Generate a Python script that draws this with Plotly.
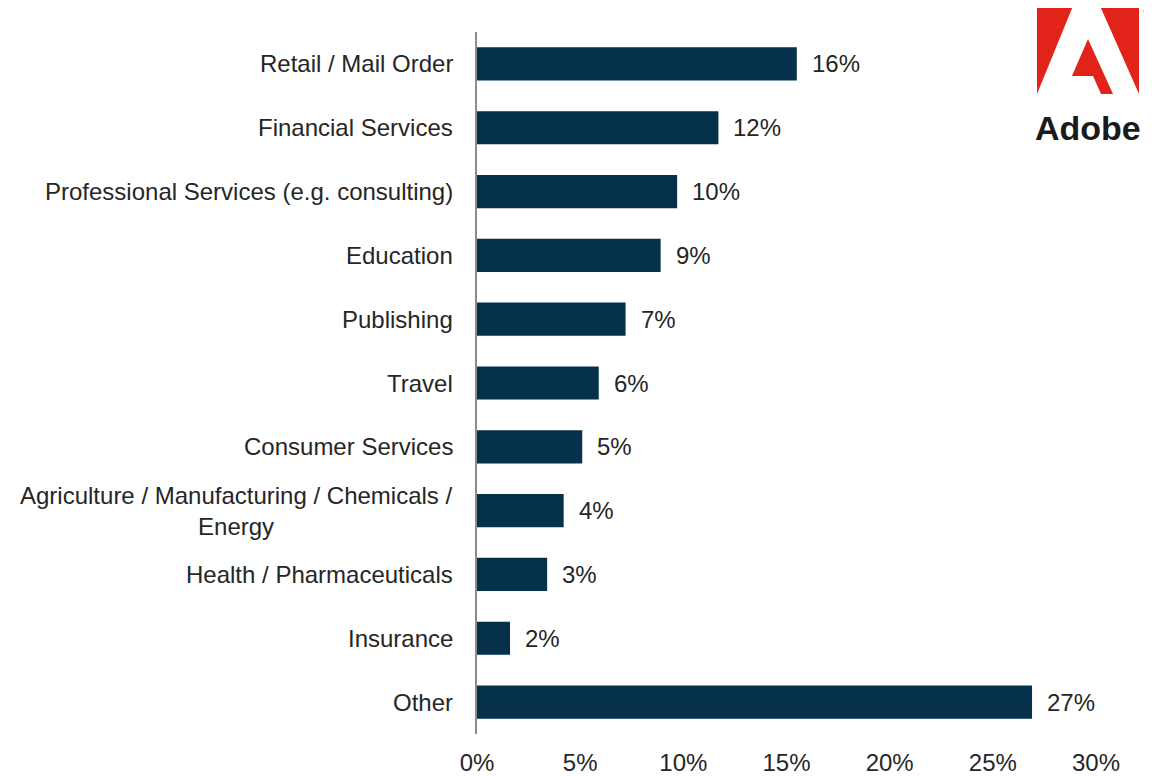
import plotly.graph_objects as go

# survey share by industry
industries = [
    "Retail / Mail Order",
    "Financial Services",
    "Professional Services (e.g. consulting)",
    "Education",
    "Publishing",
    "Travel",
    "Consumer Services",
    "Agriculture / Manufacturing / Chemicals /<br>Energy",
    "Health / Pharmaceuticals",
    "Insurance",
    "Other",
]
shares = [15.5, 11.7, 9.7, 8.9, 7.2, 5.9, 5.1, 4.2, 3.4, 1.6, 26.9]
x_ticks = [0, 5, 10, 15, 20, 25, 30]
x_tick_labels = [f"{t}%" for t in x_ticks]

BAR = "#05314a"
TEXT = "#262626"
FONT = "Liberation Sans, Arial, sans-serif"
FS = 24

# page body has an 8px margin, so the figure is shrunk to fit the window
OFF = 8
W, H = 1152 - OFF, 776 - OFF
L, R, T, B = 477 - OFF, 56, 32 - OFF, 42

fig = go.Figure(
    go.Bar(
        x=shares,
        y=industries,
        orientation="h",
        marker=dict(color=BAR, line=dict(width=0)),
        width=0.52,
        hoverinfo="skip",
    )
)

# category labels (centered multi-line like the original)
for name in industries:
    fig.add_annotation(
        x=0, xref="paper", y=name, yref="y",
        xanchor="right", yanchor="middle", xshift=-22,
        text=name, align="center", showarrow=False,
        font=dict(family=FONT, size=FS, color=TEXT),
    )

# value labels
for name, v in zip(industries, shares):
    fig.add_annotation(
        x=v, y=name, xanchor="left", yanchor="middle", xshift=13,
        text=f"{round(v)}%", showarrow=False,
        font=dict(family=FONT, size=FS, color=TEXT),
    )


# Adobe logo, placed in window pixel space
def px(x):
    return (x - OFF - L) / (W - L - R)


def py(y):
    return (H - B - (y - OFF)) / (H - T - B)


def poly(pts):
    return "M " + " L ".join(f"{px(a):.4f},{py(b):.4f}" for a, b in pts) + " Z"


red = "#e2231a"
for pts in [
    [(1037, 6), (1073, 6), (1037, 94)],
    [(1100, 6), (1139, 6), (1139, 94)],
    [(1088, 39), (1113, 94), (1101, 94), (1093, 76), (1072, 76)],
]:
    fig.add_shape(type="path", xref="paper", yref="paper", path=poly(pts),
                  fillcolor=red, line=dict(width=0), layer="above")

fig.add_annotation(
    x=px(1088), y=py(128), xref="paper", yref="paper",
    xanchor="center", yanchor="middle", showarrow=False,
    text="<b>Adobe</b>",
    font=dict(family="Liberation Sans Narrow, Arial Narrow, Liberation Sans", size=34, color="#1a1a1a"),
)
fig.add_annotation(
    x=px(1141), y=py(11), xref="paper", yref="paper",
    xanchor="left", yanchor="middle", showarrow=False,
    text="®", font=dict(family=FONT, size=8, color="#888888"),
)

fig.update_layout(
    width=W, height=H,
    margin=dict(l=L, r=R, t=T, b=B, autoexpand=False),
    paper_bgcolor="white", plot_bgcolor="white",
    showlegend=False,
    font=dict(family=FONT, size=FS, color=TEXT),
    xaxis=dict(
        range=[0, 30], tickvals=x_ticks, ticktext=x_tick_labels,
        showgrid=False, zeroline=False, showline=False,
        ticks="", ticklabelstandoff=12, automargin=False,
        tickfont=dict(family=FONT, size=FS, color=TEXT),
        fixedrange=True,
    ),
    yaxis=dict(
        autorange="reversed", showticklabels=False,
        showgrid=False, zeroline=False, automargin=False,
        showline=True, linecolor="#8c8c8c", linewidth=1.5,
        ticks="", fixedrange=True,
    ),
)

fig.write_html("out.html")
